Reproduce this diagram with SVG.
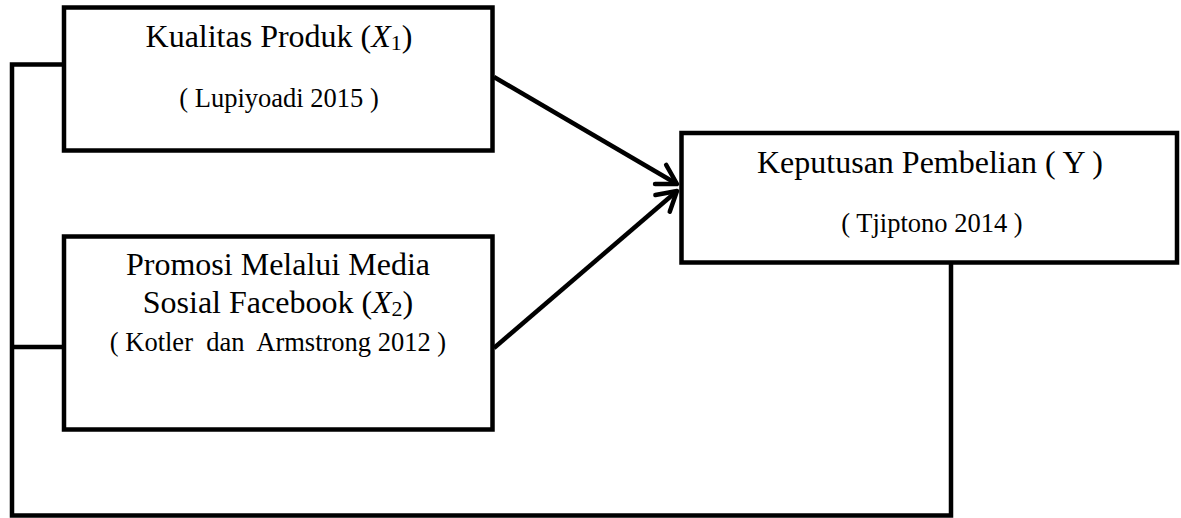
<svg xmlns="http://www.w3.org/2000/svg" width="1181" height="518" viewBox="0 0 1181 518">
<defs>
<style>
.box{fill:#fff;stroke:#000;stroke-width:4.5}
.ln{fill:none;stroke:#000;stroke-width:4.5;stroke-linejoin:miter}
.ar{fill:none;stroke:#000;stroke-width:4.5}
.t{font-family:"Liberation Serif","Times New Roman",serif;fill:#000;text-anchor:middle}
.h{font-size:32px}
.s{font-size:26.5px}
.m{font-style:italic}
</style>
<marker id="chev" markerUnits="userSpaceOnUse" orient="auto" refX="0" refY="0" markerWidth="40" markerHeight="40" viewBox="-30 -20 40 40" overflow="visible">
<path d="M-19,-11 L0,0 L-19,11" fill="none" stroke="#000" stroke-width="4.5" stroke-linecap="round" stroke-linejoin="round"/>
</marker>
</defs>
<rect width="1181" height="518" fill="#fff"/>
<g id="connectors">
<path class="ln" d="M64,64.5 H12 V515.5 H951 V262"/>
<path class="ln" d="M12,347 H64"/>
<line class="ar" x1="494" y1="77" x2="677" y2="184" marker-end="url(#chev)"/>
<line class="ar" x1="494" y1="348" x2="677" y2="191" marker-end="url(#chev)"/>
</g>
<g id="node-x1">
<rect class="box" x="64" y="7.5" width="428.5" height="143"/>
<text class="t h" x="279" y="47">Kualitas Produk (<tspan class="m">X</tspan><tspan font-size="22" dy="3">1</tspan><tspan dy="-3">)</tspan></text>
<text class="t s" x="279" y="107">( Lupiyoadi 2015 )</text>
</g>
<g id="node-x2">
<rect class="box" x="64" y="236.5" width="428.5" height="193"/>
<text class="t h" x="278" y="275">Promosi Melalui Media</text>
<text class="t h" x="278" y="313">Sosial Facebook (<tspan class="m">X</tspan><tspan font-size="22" dy="3">2</tspan><tspan dy="-3">)</tspan></text>
<text class="t s" x="278" y="351" xml:space="preserve">( Kotler  dan  Armstrong 2012 )</text>
</g>
<g id="node-y">
<rect class="box" x="681.5" y="133" width="495.5" height="129.5"/>
<text class="t h" x="930" y="173">Keputusan Pembelian ( Y )</text>
<text class="t s" x="932" y="232">( Tjiptono 2014 )</text>
</g>
</svg>
